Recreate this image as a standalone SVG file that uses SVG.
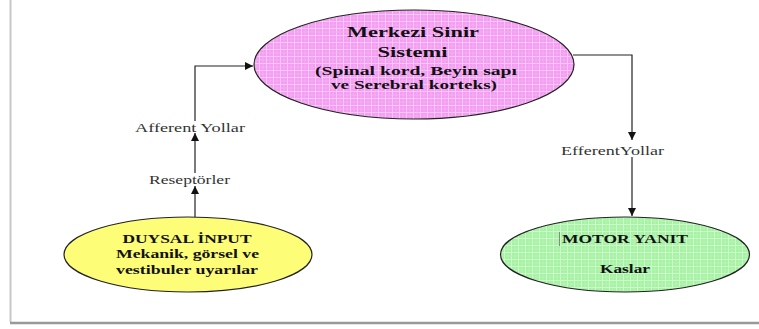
<svg xmlns="http://www.w3.org/2000/svg" width="759" height="329" viewBox="0 0 759 329">
<style>
.node{stroke:#222;stroke-width:1.2}
.t{font-family:"Liberation Serif","Times New Roman",serif;fill:#111;text-anchor:middle;font-weight:bold}
.lbl{font-family:"Liberation Serif","Times New Roman",serif;fill:#333;font-size:12.5px;text-anchor:middle}
.conn{stroke:#222;stroke-width:1.2;fill:none}
</style>
<defs>
<pattern id="pinkP" width="7" height="7" patternUnits="userSpaceOnUse">
<rect width="7" height="7" fill="#f49cf2"/>
<path d="M0 0.5H7M0.5 0V7" stroke="#fcc8fa" stroke-width="1"/>
<path d="M0 4H7M4 0V7" stroke="#f7b4f5" stroke-width="0.6"/>
</pattern>
<pattern id="greenP" width="7" height="7" patternUnits="userSpaceOnUse">
<rect width="7" height="7" fill="#a6f2a4"/>
<path d="M0 0.5H7M0.5 0V7" stroke="#cdf9cc" stroke-width="1"/>
<path d="M0 4H7M4 0V7" stroke="#baf6b8" stroke-width="0.6"/>
</pattern>
<marker id="arr" viewBox="0 0 10 10" refX="10" refY="5" markerWidth="8" markerHeight="8" markerUnits="userSpaceOnUse" orient="auto">
<path d="M0 0L10 5L0 10Z" fill="#111"/>
</marker>
</defs>
<rect width="759" height="329" fill="#fff"/>
<path d="M10.5 0V322" stroke="#c8c8c8" stroke-width="2"/>
<path d="M10 323H759" stroke="#999" stroke-width="2.5"/>

<g id="connectors">
<path class="conn" d="M195 217V186" marker-end="url(#arr)"/>
<path class="conn" d="M195 173V133" marker-end="url(#arr)"/>
<path class="conn" d="M195 121V66H253" marker-end="url(#arr)"/>
<path class="conn" d="M573 55H632V140" marker-end="url(#arr)"/>
<path class="conn" d="M632 157V216" marker-end="url(#arr)"/>
<text class="lbl" x="190" y="132" textLength="110" lengthAdjust="spacingAndGlyphs">Afferent Yollar</text>
<text class="lbl" x="189.5" y="184" textLength="81" lengthAdjust="spacingAndGlyphs">Reseptörler</text>
<text class="lbl" x="612.5" y="155" textLength="103" lengthAdjust="spacingAndGlyphs">EfferentYollar</text>
</g>

<g id="merkezi">
<ellipse class="node" cx="414" cy="64.5" rx="160" ry="54.5" fill="url(#pinkP)"/>
<text class="t" x="413" y="37" font-size="14.5" textLength="132" lengthAdjust="spacingAndGlyphs">Merkezi Sinir</text>
<text class="t" x="412.5" y="57" font-size="14.5" textLength="70" lengthAdjust="spacingAndGlyphs">Sistemi</text>
<text class="t" x="416" y="75" font-size="13" textLength="202" lengthAdjust="spacingAndGlyphs">(Spinal kord, Beyin sapı</text>
<text class="t" x="414" y="89" font-size="13" textLength="166" lengthAdjust="spacingAndGlyphs">ve Serebral korteks)</text>
</g>

<g id="duysal">
<ellipse class="node" cx="188" cy="254.5" rx="124" ry="37.5" fill="#fdfd78"/>
<text class="t" x="187" y="243" font-size="13" textLength="129" lengthAdjust="spacingAndGlyphs">DUYSAL İNPUT</text>
<text class="t" x="187.5" y="258" font-size="13" textLength="143" lengthAdjust="spacingAndGlyphs">Mekanik, görsel ve</text>
<text class="t" x="187" y="274" font-size="13" textLength="142" lengthAdjust="spacingAndGlyphs">vestibuler uyarılar</text>
</g>

<g id="motor">
<ellipse class="node" cx="625" cy="254.5" rx="124.5" ry="37.5" fill="url(#greenP)"/>
<path d="M559.5 232V246" stroke="#888" stroke-width="1"/>
<text class="t" x="625" y="243" font-size="13" textLength="126" lengthAdjust="spacingAndGlyphs">MOTOR YANIT</text>
<text class="t" x="625" y="273" font-size="13" textLength="50" lengthAdjust="spacingAndGlyphs">Kaslar</text>
</g>
</svg>
